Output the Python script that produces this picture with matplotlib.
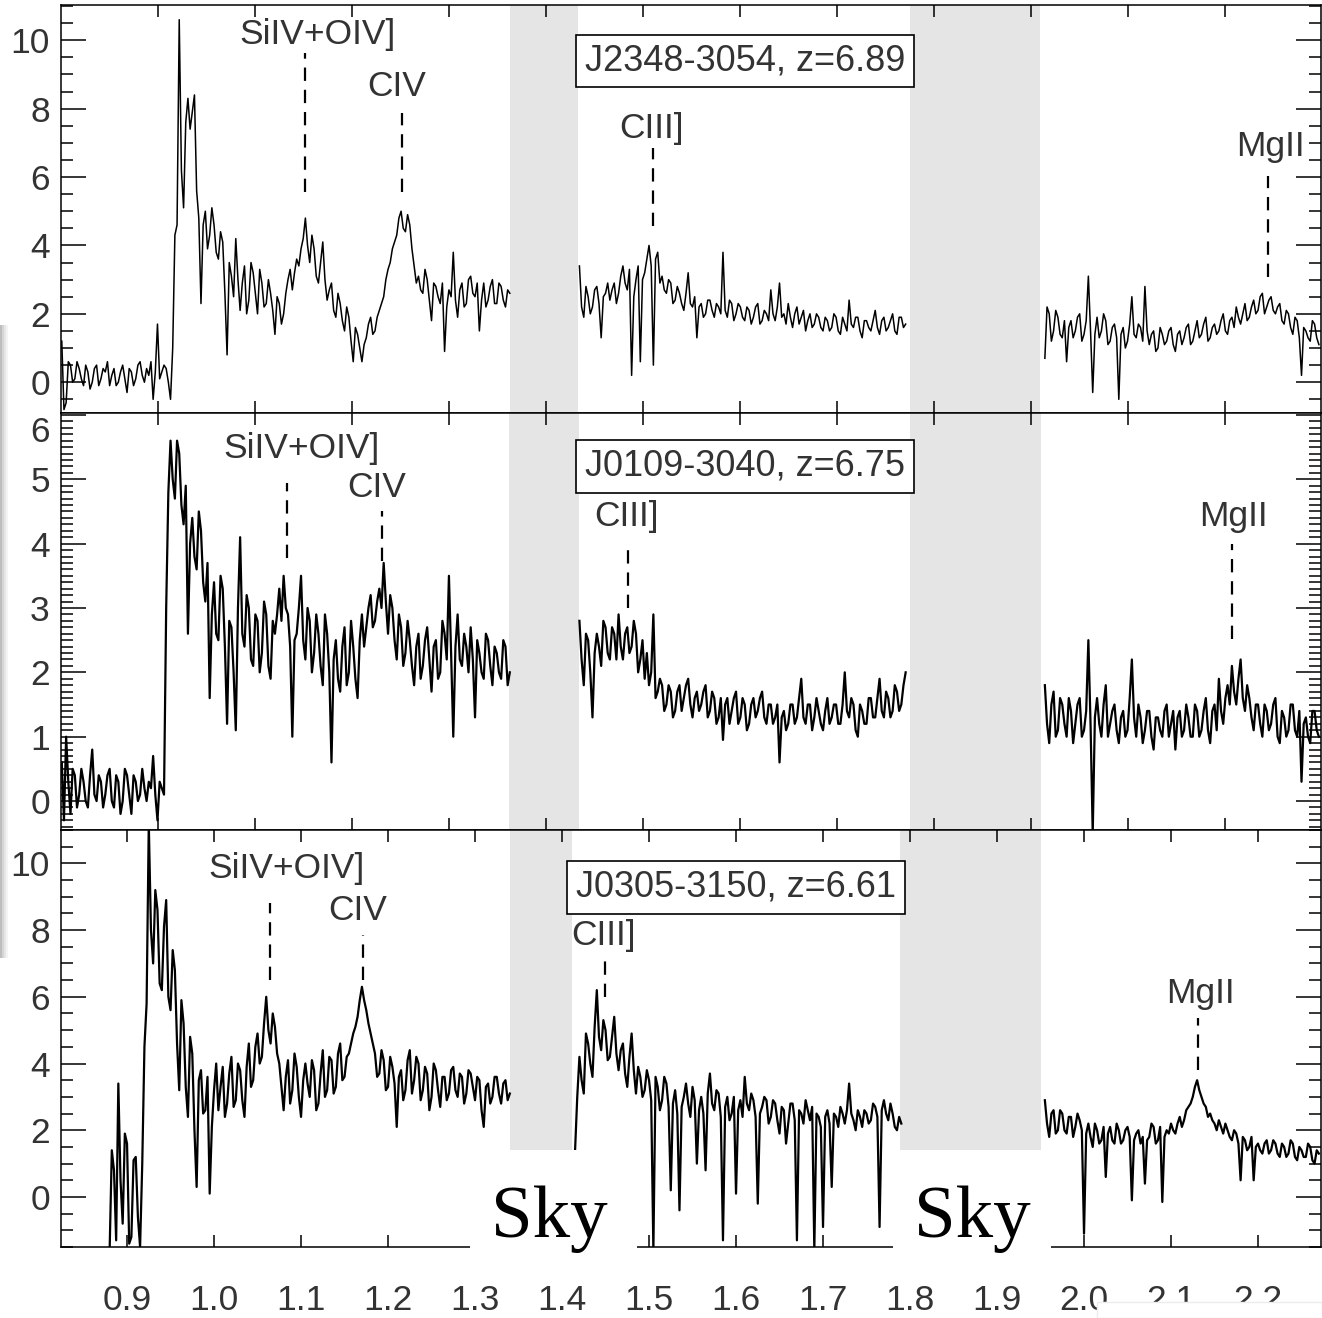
import numpy as np
import matplotlib.pyplot as plt
from matplotlib.patches import Rectangle
from matplotlib.ticker import MultipleLocator, FixedLocator, FormatStrFormatter, FuncFormatter

W, H = 1322, 1318
STEP = 0.0025  # micron, sampling of the typed spectra

# ---- spectra (flux), three chunks per quasar ----
j2348_starts = [0.825, 1.420, 1.955]
j2348_blue = [1.2, -0.8, -0.6, 0.6, 0.5, 0.0, 0.1, 0.6, 0.4, 0.1, -0.1, 0.5, 0.3, -0.2, 0.0, 0.4, 0.5, -0.1, 0.1, 0.4,
              0.3, 0.6, -0.1, 0.2, 0.4, -0.1, 0.0, 0.3, 0.5, 0.1, -0.3, 0.4, 0.3, -0.1, 0.1, 0.5, 0.6, 0.2, 0.0, 0.4,
              0.2, 0.6, -0.5, 0.3, 1.7, 0.1, 0.3, 0.5, 0.4, 0.0, -0.5, 1.0, 4.3, 4.6, 10.6, 6.2, 5.1, 7.6, 8.3, 7.4,
              7.9, 8.4, 5.6, 4.8, 2.3, 4.6, 5.0, 3.9, 4.3, 5.1, 4.6, 3.8, 3.6, 4.4, 4.1, 2.6, 0.8, 3.5, 3.1, 2.5,
              4.2, 3.0, 2.1, 2.9, 3.4, 2.0, 2.4, 3.5, 3.2, 2.6, 2.0, 3.3, 2.9, 2.2, 2.3, 3.0, 2.6, 2.1, 1.4, 2.5,
              2.3, 1.7, 2.0, 2.6, 3.0, 3.3, 2.7, 3.2, 3.6, 3.4, 3.9, 4.2, 4.8, 4.0, 3.5, 4.3, 3.9, 3.1, 2.9, 3.5,
              4.1, 3.0, 2.4, 2.7, 2.9, 2.1, 1.9, 2.6, 2.3, 1.8, 1.5, 2.2, 1.9, 1.2, 0.6, 1.6, 1.4, 1.0, 0.6, 1.1,
              1.3, 1.7, 1.9, 1.4, 1.5, 1.9, 2.1, 2.3, 2.5, 3.0, 3.3, 3.5, 3.9, 4.1, 4.3, 4.8, 5.0, 4.5, 4.4, 4.9,
              4.6, 3.9, 3.4, 2.9, 3.1, 2.7, 2.6, 3.3, 3.0, 2.4, 1.8, 2.9, 2.8, 2.5, 2.3, 2.9, 0.9, 2.2, 2.7, 2.5,
              3.8, 2.4, 1.9, 2.7, 2.9, 2.2, 2.3, 3.0, 3.1, 2.6, 2.5, 2.9, 1.5, 2.4, 2.9, 2.2, 2.4, 2.8, 3.0, 2.3,
              2.3, 2.9, 2.8, 2.4, 2.2, 2.7, 2.6]
j2348_mid = [3.4, 2.2, 1.9, 2.8, 2.5, 2.0, 2.2, 2.7, 2.8, 2.3, 1.3, 2.5, 2.6, 2.9, 2.4, 2.7, 2.9, 2.3, 2.6, 3.1,
             3.4, 2.9, 2.7, 3.3, 0.2, 2.5, 3.0, 3.4, 0.6, 3.0, 3.2, 3.6, 4.0, 3.4, 0.5, 3.6, 3.8, 2.9, 3.1, 2.7,
             2.6, 3.0, 2.9, 2.3, 2.4, 2.8, 2.6, 2.3, 2.1, 2.6, 3.2, 2.3, 2.2, 2.5, 1.3, 2.2, 2.3, 1.9, 2.0, 2.4,
             2.4, 2.1, 1.9, 2.3, 2.2, 2.0, 3.8, 2.1, 1.9, 2.4, 2.3, 1.8, 2.0, 2.3, 2.2, 1.9, 1.8, 2.2, 2.1, 1.7,
             1.9, 2.2, 2.3, 1.7, 1.8, 2.1, 2.0, 1.8, 2.7, 2.0, 1.8, 2.2, 2.9, 1.9, 2.0, 1.7, 2.3, 1.9, 1.6, 2.0,
             2.2, 1.7, 1.9, 2.1, 1.5, 1.8, 2.0, 1.6, 1.7, 2.0, 1.9, 1.6, 1.5, 1.9, 1.8, 1.5, 1.6, 2.0, 1.9, 1.5,
             1.4, 1.9, 1.7, 1.5, 2.4, 1.7, 1.6, 1.9, 1.9, 1.5, 1.3, 1.8, 1.8, 1.6, 1.5, 1.8, 2.1, 1.6, 1.4, 1.8,
             1.9, 1.5, 1.6, 1.8, 2.0, 1.5, 1.4, 1.9, 1.9, 1.6, 1.7]
j2348_red = [0.7, 2.2, 2.0, 1.2, 1.5, 2.1, 1.9, 1.4, 1.3, 1.8, 0.6, 1.6, 1.8, 1.3, 1.5, 1.9, 2.0, 1.2, 1.4, 1.8,
             3.1, 1.5, -0.3, 1.4, 1.9, 1.3, 1.5, 2.0, 1.8, 1.1, 1.2, 1.6, 1.7, 1.3, -0.5, 1.4, 1.6, 1.0, 1.2, 1.7,
             2.5, 1.4, 1.3, 1.7, 1.6, 1.2, 2.8, 1.5, 1.1, 1.4, 1.5, 0.9, 1.0, 1.6, 1.4, 1.1, 1.2, 1.5, 1.6, 1.1,
             0.9, 1.4, 1.5, 1.1, 1.3, 1.6, 1.7, 1.1, 1.2, 1.5, 1.8, 1.3, 1.4, 1.7, 1.9, 1.2, 1.3, 1.6, 1.7, 1.4,
             1.5, 1.8, 2.0, 1.5, 1.4, 1.8, 1.9, 1.6, 2.2, 1.9, 1.7, 2.0, 2.3, 1.8, 1.9, 2.2, 2.4, 2.0, 2.1, 2.5,
             2.6, 2.0, 2.2, 2.4, 2.5, 2.1, 2.0, 2.2, 2.3, 1.8, 1.7, 2.1, 2.0, 1.6, 1.4, 1.9, 1.8, 1.3, 0.2, 1.6,
             1.5, 1.3, 1.2, 1.8, 1.7, 1.3, 1.1]

j0109_starts = [0.825, 1.420, 1.955]
j0109_blue = [0.6, -0.3, 1.0, 0.3, -0.2, 0.5, 0.4, -0.1, 0.1, 0.5, 0.3, 0.0, -0.1, 0.4, 0.8, 0.1, 0.0, 0.4, 0.3, -0.1,
              0.1, 0.4, 0.5, 0.0, -0.1, 0.4, 0.3, -0.2, 0.0, 0.5, 0.4, 0.1, -0.2, 0.4, 0.3, 0.0, 0.1, 0.5, 0.2, 0.0,
              0.3, 0.2, 0.7, 0.1, -0.3, 0.3, 0.2, 0.1, 3.0, 4.8, 5.6, 5.0, 4.7, 5.6, 5.4, 4.6, 4.3, 4.9, 2.6, 4.0,
              4.4, 3.8, 3.6, 4.5, 4.2, 3.4, 3.1, 3.7, 1.6, 2.9, 3.4, 2.6, 2.5, 3.5, 3.3, 2.4, 1.2, 2.8, 2.7, 2.0,
              1.1, 3.0, 4.1, 2.6, 2.4, 3.2, 3.0, 2.2, 2.1, 2.9, 2.8, 2.0, 2.3, 3.1, 2.9, 2.1, 1.9, 2.8, 2.6, 2.9,
              3.3, 2.8, 3.5, 3.0, 2.9, 2.4, 1.0, 2.5, 2.6, 3.0, 3.5, 2.5, 2.2, 3.0, 2.8, 2.0, 2.3, 2.9, 2.6, 2.1,
              1.8, 2.9, 2.6, 2.0, 0.6, 2.2, 2.5, 1.9, 1.7, 2.4, 2.7, 1.8, 2.0, 2.8, 2.4, 1.9, 1.6, 2.5, 2.9, 2.4,
              2.7, 3.0, 3.2, 2.7, 2.8, 3.1, 3.3, 3.0, 3.7, 3.1, 2.6, 3.2, 3.0, 2.5, 2.2, 2.9, 2.7, 2.1, 2.3, 2.8,
              2.5, 2.1, 1.8, 2.4, 2.6, 1.9, 2.1, 2.5, 2.7, 2.2, 1.7, 2.4, 2.5, 1.9, 2.0, 2.8, 2.6, 2.2, 3.5, 2.3,
              1.0, 2.4, 2.9, 2.2, 2.1, 2.6, 2.4, 2.0, 2.7, 2.2, 1.3, 2.5, 2.3, 2.0, 1.9, 2.6, 2.5, 2.1, 1.8, 2.4,
              2.3, 2.0, 1.9, 2.5, 2.4, 1.8, 2.0]
j0109_mid = [2.8, 2.2, 1.8, 2.6, 2.5, 2.0, 1.3, 2.3, 2.6, 2.4, 2.1, 2.8, 2.7, 2.3, 2.2, 2.7, 2.6, 2.2, 2.9, 2.4,
             2.2, 2.6, 2.7, 2.3, 2.4, 2.8, 2.6, 2.0, 2.2, 2.5, 1.9, 2.3, 1.8, 2.0, 2.9, 1.6, 1.7, 1.9, 1.8, 1.4,
             1.5, 1.8, 1.7, 1.3, 1.4, 1.7, 1.8, 1.4, 1.6, 1.8, 1.9, 1.5, 1.3, 1.6, 1.7, 1.4, 1.5, 1.7, 1.8, 1.3,
             1.4, 1.7, 1.6, 1.2, 1.3, 1.6, 0.95, 1.5, 1.6, 1.2, 1.4, 1.6, 1.7, 1.2, 1.3, 1.6, 1.5, 1.1, 1.2, 1.5,
             1.6, 1.3, 1.4, 1.6, 1.7, 1.3, 1.2, 1.5, 1.5, 1.2, 1.3, 1.5, 0.6, 1.3, 1.4, 1.1, 1.2, 1.5, 1.5, 1.2,
             1.3, 1.6, 1.9, 1.3, 1.2, 1.5, 1.5, 1.1, 1.3, 1.6, 1.4, 1.2, 1.1, 1.4, 1.6, 1.2, 1.3, 1.5, 1.5, 1.2,
             1.2, 1.5, 2.0, 1.4, 1.3, 1.6, 1.5, 1.1, 1.0, 1.5, 1.4, 1.2, 1.2, 1.6, 1.6, 1.3, 1.3, 1.6, 1.9, 1.4,
             1.3, 1.7, 1.6, 1.3, 1.4, 1.8, 1.7, 1.4, 1.5, 1.8, 2.0]
j0109_red = [1.8, 1.2, 0.9, 1.5, 1.7, 1.0, 1.1, 1.6, 1.5, 1.2, 1.0, 1.6, 1.4, 0.9, 1.2, 1.5, 1.6, 1.0, 1.1, 1.4,
             2.5, 1.2, -0.5, 1.3, 1.6, 1.2, 1.0, 1.5, 1.8, 1.0, 1.2, 1.4, 1.5, 1.1, 0.9, 1.3, 1.4, 1.0, 1.1, 1.6,
             2.2, 1.3, 1.0, 1.5, 1.3, 0.9, 1.1, 1.4, 1.4, 1.0, 0.8, 1.3, 1.3, 1.1, 1.0, 1.4, 1.5, 1.0, 1.2, 1.4,
             0.8, 1.3, 1.4, 1.0, 1.1, 1.5, 1.3, 1.0, 1.0, 1.5, 1.4, 1.0, 1.1, 1.4, 1.6, 1.1, 0.9, 1.4, 1.5, 1.1,
             1.9, 1.4, 1.2, 1.6, 1.8, 1.5, 2.1, 1.7, 1.5, 1.9, 2.2, 1.6, 1.4, 1.8, 1.6, 1.3, 1.1, 1.5, 1.5, 1.2,
             1.0, 1.5, 1.4, 1.1, 1.2, 1.5, 1.6, 1.0, 0.9, 1.4, 1.3, 1.0, 1.1, 1.5, 1.5, 1.1, 1.0, 1.4, 0.3, 1.2,
             1.3, 1.0, 0.9, 1.4, 1.4, 1.1, 1.0]

j0305_starts = [0.880, 1.415, 1.955]
j0305_blue = [-1.6, 1.4, 0.8, -1.3, 3.4, 0.5, -0.8, 1.9, 1.6, -1.4, -1.2, 1.1, 1.2, -0.6, -1.5, 1.0, 4.5, 5.8, 11.2, 8.0,
              7.0, 9.2, 8.6, 6.4, 6.2, 8.1, 8.9, 6.0, 5.6, 7.4, 6.8, 4.6, 3.2, 5.9, 5.2, 3.3, 2.4, 4.8,
              4.3, 2.0, 0.3, 3.5, 3.8, 2.5, 2.6, 3.6, 0.1, 2.1, 3.2, 4.0, 2.6, 3.3, 3.9, 2.4, 2.8, 3.7, 4.2, 2.7,
              2.9, 4.0, 3.8, 2.9, 2.4, 3.9, 4.6, 3.3, 3.5, 4.5, 4.9, 4.0, 4.2, 5.2, 6.0, 5.0, 4.6, 5.5, 5.1, 4.3,
              4.0, 3.3, 2.6, 3.6, 4.1, 2.8, 3.2, 4.3, 3.9, 3.0, 2.4, 3.5, 4.0, 3.4, 3.0, 4.1, 3.8, 2.6, 2.8, 3.7,
              4.4, 3.0, 3.2, 4.2, 4.1, 3.1, 3.3, 4.3, 4.6, 3.5, 3.6, 4.2, 4.3, 4.6, 4.9, 5.1, 5.4, 5.9, 6.3, 5.9,
              5.6, 5.2, 4.9, 4.6, 4.3, 3.6, 3.7, 4.4, 4.1, 3.2, 3.3, 4.2, 3.9, 3.4, 2.1, 3.6, 3.8, 2.9, 3.2, 4.1,
              4.4, 3.1, 3.5, 4.2, 4.0, 2.9, 3.2, 3.9, 3.7, 2.6, 3.0, 4.0, 3.8, 3.2, 2.7, 3.6, 3.6, 2.9, 3.1, 3.8,
              3.9, 3.2, 3.0, 3.7, 3.6, 2.8, 3.1, 3.8, 3.7, 3.3, 2.9, 3.6, 3.5, 2.6, 2.1, 3.3, 3.4, 2.8, 3.0, 3.6,
              3.6, 3.1, 2.8, 3.4, 3.5, 2.9, 3.1]
j0305_mid = [1.4, 3.0, 4.2, 3.5, 3.1, 4.9, 4.6, 4.0, 3.6, 5.1, 6.2, 4.8, 4.4, 5.3, 5.0, 4.1, 4.2, 4.8, 5.4, 4.3,
             3.8, 4.4, 4.6, 3.7, 3.3, 4.2, 4.9, 3.8, 3.1, 3.9, 3.6, 3.0, 3.2, 3.8, 3.5, 2.9, -1.6, 3.6, 3.3, 2.6,
             2.9, 3.6, 3.4, 2.7, 0.2, 2.8, 3.2, 2.5, -0.4, 2.7, 3.0, 3.4, 2.8, 2.4, 3.3, 2.9, 1.0, 2.6, 3.0, 2.5,
             0.8, 3.1, 3.7, 2.8, 2.6, 3.2, 3.1, 2.4, -1.3, 2.7, 3.0, 2.3, 2.5, 3.0, 0.1, 2.6, 2.9, 2.4, 3.6, 2.8,
             2.6, 3.1, 2.9, 2.4, -0.2, 2.5, 2.7, 3.0, 2.9, 2.2, 2.4, 2.9, 2.8, 2.3, 1.9, 2.7, 2.6, 1.6, 2.2, 2.8,
             2.8, 2.3, -1.3, 2.6, 2.5, 2.2, 2.9, 2.6, 2.3, 2.7, -1.6, 2.5, 2.4, 2.1, -0.9, 2.4, 2.6, 2.2, 0.3, 2.5,
             2.4, 2.1, 2.7, 2.5, 2.2, 2.6, 3.4, 2.5, 2.3, 2.0, 2.6, 2.4, 2.1, 2.6, 2.5, 2.2, 2.3, 2.8, 2.7, 2.4,
             -0.9, 2.6, 2.9, 2.5, 2.3, 2.8, 2.5, 2.1, 2.0, 2.4, 2.2]
j0305_red = [2.9, 2.2, 1.8, 2.5, 2.6, 1.9, 2.0, 2.6, 2.5, 2.0, 1.9, 2.4, 2.4, 1.8, 2.1, 2.5, 2.3, 2.0, -1.1, 1.9,
             2.2, 1.8, 1.5, 2.2, 2.0, 1.6, 1.7, 2.1, 0.6, 1.9, 2.1, 1.7, 1.6, 2.2, 2.0, 1.6, 1.7, 2.0, 2.1, 1.8,
             -0.1, 1.7, 1.9, 2.0, 1.6, 1.8, 0.4, 1.7, 1.8, 2.2, 2.1, 1.6, 1.7, 2.1, -0.15, 1.8, 2.0, 1.9, 2.2, 2.0,
             1.9, 2.2, 2.4, 2.1, 2.3, 2.6, 2.7, 2.8, 3.0, 3.3, 3.5, 3.2, 3.0, 2.8, 2.7, 2.4, 2.5, 2.3, 2.2, 2.0,
             2.3, 2.1, 1.9, 2.2, 2.0, 1.8, 1.7, 2.0, 1.9, 1.6, 0.5, 1.8, 1.7, 1.4, 1.5, 1.8, 0.5, 1.5, 1.6, 1.4,
             1.3, 1.6, 1.7, 1.3, 1.4, 1.7, 1.6, 1.3, 1.2, 1.6, 1.5, 1.2, 1.3, 1.7, 1.6, 1.2, 1.1, 1.5, 1.4, 1.2,
             1.2, 1.6, 1.5, 1.1, 1.0, 1.4, 1.3]

names = ['J2348-3054', 'J0109-3040', 'J0305-3150']
redshifts = [6.89, 6.75, 6.61]
line_labels = ['SiIV+OIV]', 'CIV', 'CIII]', 'MgII']
line_waves = [[1.1046, 1.216, 1.5046, 2.2115],
              [1.0839, 1.1931, 1.4759, 2.170],
              [1.0644, 1.1713, 1.4494, 2.131]]
sky_bands = [[(1.3402, 1.4184), (1.800, 1.9494)],
             [(1.3391, 1.4195), (1.800, 1.9506)],
             [(1.3402, 1.4115), (1.7885, 1.9506)]]

spectra = [(j2348_starts, [j2348_blue, j2348_mid, j2348_red]),
           (j0109_starts, [j0109_blue, j0109_mid, j0109_red]),
           (j0305_starts, [j0305_blue, j0305_mid, j0305_red])]

# ---- layout ----
XLIM = (0.8241, 2.2724)
panel_px = [(5, 413), (413, 830), (830, 1247)]
ylims = [(-0.9, 11.03), (-0.45, 6.03), (-1.5, 11.0)]
ymajor = [2, 1, 2]
yminor = [0.5, 0.1, 0.5]
line_lw = [1.1, 1.6, 1.6]
# dashed marker extents (flux units) and label centres (wavelength, flux)
dash_ext = [[(9.63, 5.57), (7.87, 5.57), (6.84, 4.57), (6.04, 3.07)],
            [(4.95, 3.77), (4.50, 3.73), (4.00, 3.00), (4.00, 2.52)],
            [(8.80, 6.50), (7.84, 6.50), (7.19, 5.99), (5.36, 3.80)]]
label_pos = [[(1.1184, 10.16), (1.2103, 8.66), (1.5023, 7.43), (2.2138, 6.90)],
             [(1.1000, 5.48), (1.1874, 4.875), (1.4736, 4.42), (2.1713, 4.42)],
             [(1.0828, 9.85), (1.1655, 8.59), (1.4471, 7.84), (2.1333, 6.11)]]
box_pos = [(1.6103, 9.40), (1.6103, 5.20), (1.6000, 9.28)]
# ticks of the upper two panels sit on a different grid than the bottom one
upper_xticks = 0.9356 + 0.1115 * np.arange(13)

TXT = '#333333'
SANS = 'Liberation Sans'
FS_TICK = 25.5
FS_LINE = 25.5


def fig_rect(x0, y0, x1, y1):
    return [x0 / W, 1 - y1 / H, (x1 - x0) / W, (y1 - y0) / H]


fig = plt.figure(figsize=(W / 100, H / 100), dpi=100)

for i in range(3):
    y0, y1 = panel_px[i]
    ax = fig.add_axes(fig_rect(61, y0, 1321, y1))
    for lo, hi in sky_bands[i]:
        ax.axvspan(lo, hi, color='#e5e5e5', lw=0, zorder=0)
    starts, chunks = spectra[i]
    for s, vals in zip(starts, chunks):
        wl = s + STEP * np.arange(len(vals))
        ax.plot(wl, vals, color='k', lw=line_lw[i], zorder=2)
    for k in range(4):
        top, bot = dash_ext[i][k]
        ax.plot([line_waves[i][k]] * 2, [bot, top], color='k', lw=1.6,
                linestyle=(0, (6, 4)), zorder=3)
        lx, ly = label_pos[i][k]
        ax.text(lx, ly, line_labels[k], ha='center', va='center',
                fontsize=FS_LINE, color=TXT, family=SANS)
    bx, by = box_pos[i]
    ax.text(bx, by, '%s, z=%.2f' % (names[i], redshifts[i]), ha='center',
            va='center', fontsize=26, color=TXT, family=SANS,
            bbox=dict(boxstyle='square,pad=0.24', fc='white', ec='k', lw=1.2))

    ax.set_xlim(*XLIM)
    ax.set_ylim(*ylims[i])
    ax.yaxis.set_major_locator(MultipleLocator(ymajor[i]))
    ax.yaxis.set_minor_locator(MultipleLocator(yminor[i]))
    if i == 1:
        # the top label of the middle panel sits a little lower in the original
        ax.yaxis.set_major_formatter(FuncFormatter(lambda v, p: '' if v > 5.5 else '%d' % round(v)))
        ax.text(-0.0087, 5.73, '6', transform=ax.get_yaxis_transform(), ha='right',
                va='center', fontsize=FS_TICK, color=TXT, family=SANS)
    else:
        ax.yaxis.set_major_formatter(FormatStrFormatter('%d'))
    if i < 2:
        ax.xaxis.set_major_locator(FixedLocator(upper_xticks))
        ax.tick_params(axis='x', labelbottom=False)
    else:
        ax.xaxis.set_major_locator(MultipleLocator(0.1))
        ax.xaxis.set_major_formatter(FormatStrFormatter('%.1f'))
        ax.tick_params(axis='x', pad=27)
    ax.tick_params(which='both', direction='in', top=True, right=True,
                   width=1.1, labelsize=FS_TICK, labelcolor=TXT)
    ax.tick_params(axis='y', which='major', length=18, pad=8)
    ax.tick_params(axis='y', which='minor', length=8.6)
    ax.tick_params(axis='x', which='major', length=8.6)
    for lab in ax.get_xticklabels() + ax.get_yticklabels():
        lab.set_family(SANS)
    for sp in ax.spines.values():
        sp.set_linewidth(1.1)

# white cut-outs behind the "Sky" captions
for x0, x1 in [(470, 637), (893, 1051)]:
    fig.add_artist(Rectangle((x0 / W, 1 - 1256 / H), (x1 - x0) / W, 106 / H,
                             transform=fig.transFigure, fc='white', ec='none', zorder=10))
for xc in [549, 972]:
    fig.text(xc / W, 1 - 1237 / H, 'Sky', ha='center', va='baseline',
             fontsize=54, family='Liberation Serif', color='k', zorder=11)

# pale strip over the lower right tick labels
fig.add_artist(Rectangle((1097 / W, 0), (W - 1097) / W, 16 / H, transform=fig.transFigure,
                         fc='white', ec='#ececec', lw=1, zorder=10))

# soft shadow along the left edge
for j, c in enumerate(['#bdbdbd', '#d4d4d4', '#e6e6e6', '#f4f4f4']):
    fig.add_artist(Rectangle((2 * j / W, 1 - 958 / H), 2 / W, 633 / H,
                             transform=fig.transFigure, fc=c, ec='none', zorder=10))

fig.savefig('out.png', dpi=100)
